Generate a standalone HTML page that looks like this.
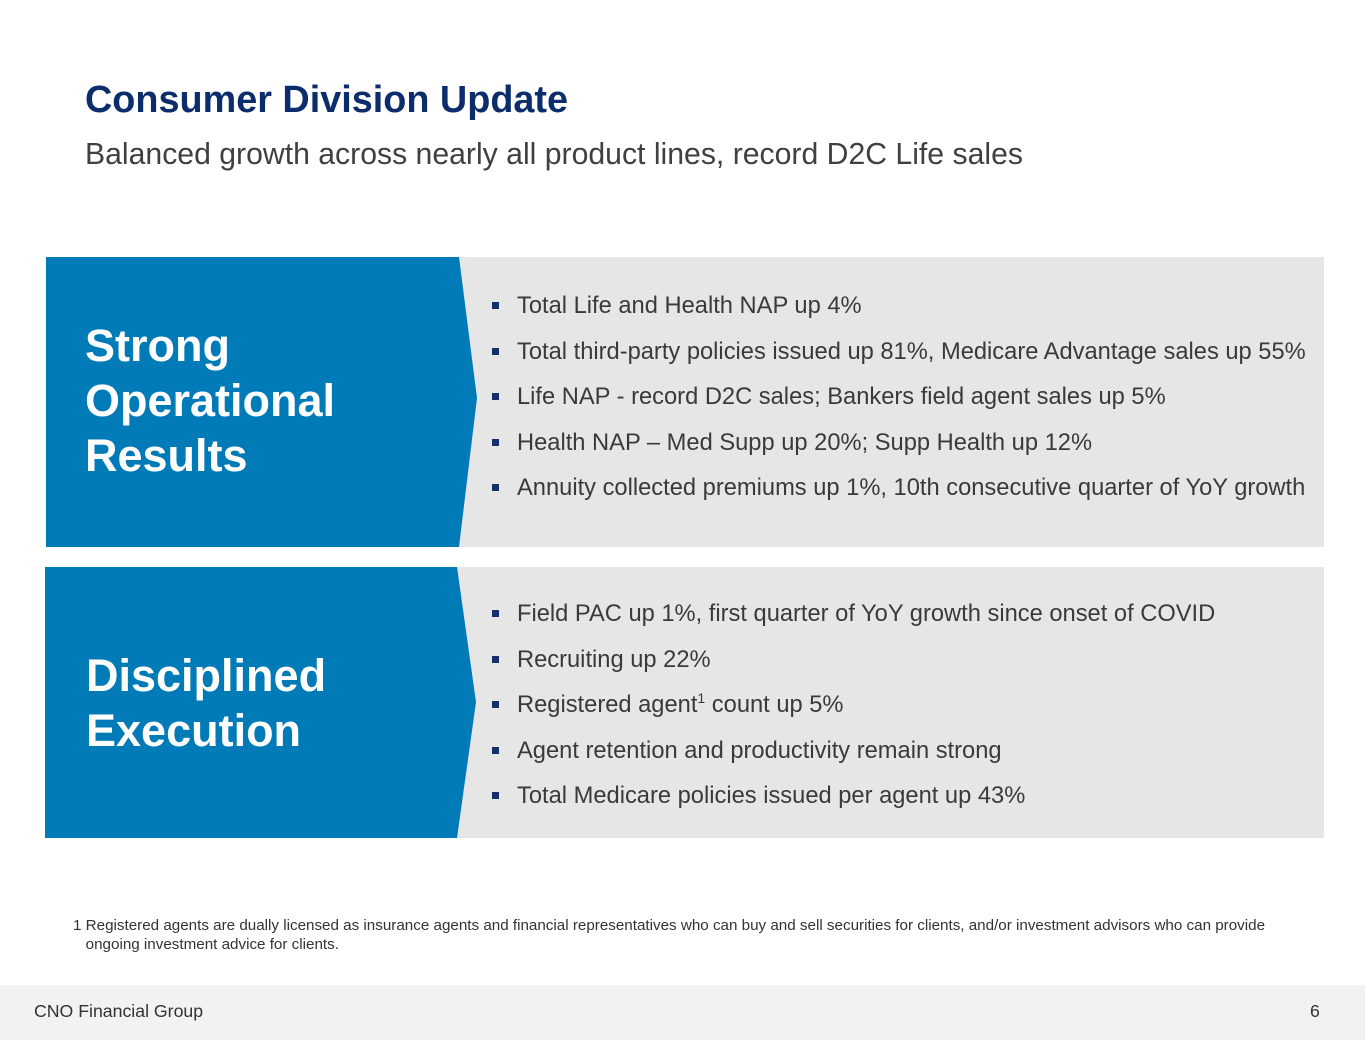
<!DOCTYPE html>
<html><head><meta charset="utf-8"><style>
body{margin:0;width:1365px;height:1055px;background:#fff;font-family:"Liberation Sans",Arial,sans-serif;position:relative;overflow:hidden}
.a{position:absolute}
.t{left:85px;top:79px;font-size:37.8px;font-weight:bold;color:#0c2d6b}
.s{left:85px;top:138px;font-size:30.2px;color:#404040}
.g{background:#e6e6e6}
.h{color:#fff;font-weight:bold;font-size:45px;line-height:55px}
ul{list-style:none;margin:0;padding:0}
li{position:relative;padding-left:38px;font-size:23.7px;color:#3a3a3a;height:45.6px;line-height:26px;white-space:nowrap}
li:before{content:"";position:absolute;left:13px;top:9px;width:7px;height:7px;background:#13306b}
sup{font-size:14px;line-height:0}
.f{left:73px;top:916px;font-size:15.2px;color:#333;line-height:19px;width:1280px}
.bar{left:0;top:985px;width:1365px;height:55px;background:#f2f2f2}
</style></head><body>
<div class="a t">Consumer Division Update</div>
<div class="a s">Balanced growth across nearly all product lines, record D2C Life sales</div>
<div class="a g" style="left:455px;top:257px;width:869px;height:290px"></div>
<div class="a g" style="left:455px;top:567px;width:869px;height:271px"></div>
<svg class="a" style="left:0;top:0" width="1365" height="1055">
<polygon points="46,257 459,257 477,398 459,547 46,547" fill="#007bb8"/>
<polygon points="45,567 457,567 476,702 457,838 45,838" fill="#007bb8"/>
</svg>
<div class="a h" style="left:85px;top:318px">Strong<br>Operational<br>Results</div>
<div class="a h" style="left:86px;top:648px">Disciplined<br>Execution</div>
<ul class="a" style="left:479px;top:293px">
<li>Total Life and Health NAP up 4%</li>
<li>Total third-party policies issued up 81%, Medicare Advantage sales up 55%</li>
<li>Life NAP - record D2C sales; Bankers field agent sales up 5%</li>
<li>Health NAP – Med Supp up 20%; Supp Health up 12%</li>
<li>Annuity collected premiums up 1%, 10th consecutive quarter of YoY growth</li>
</ul>
<ul class="a" style="left:479px;top:601px">
<li>Field PAC up 1%, first quarter of YoY growth since onset of COVID</li>
<li>Recruiting up 22%</li>
<li>Registered agent<sup>1</sup> count up 5%</li>
<li>Agent retention and productivity remain strong</li>
<li>Total Medicare policies issued per agent up 43%</li>
</ul>
<div class="a f">1 Registered agents are dually licensed as insurance agents and financial representatives who can buy and sell securities for clients, and/or investment advisors who can provide<br>&nbsp;&nbsp;&nbsp;ongoing investment advice for clients.</div>
<div class="a bar"></div>
<div class="a" style="left:34px;top:1001px;font-size:17.7px;color:#333">CNO Financial Group</div>
<div class="a" style="left:1310px;top:1001px;font-size:17.7px;color:#333">6</div>
</body></html>
